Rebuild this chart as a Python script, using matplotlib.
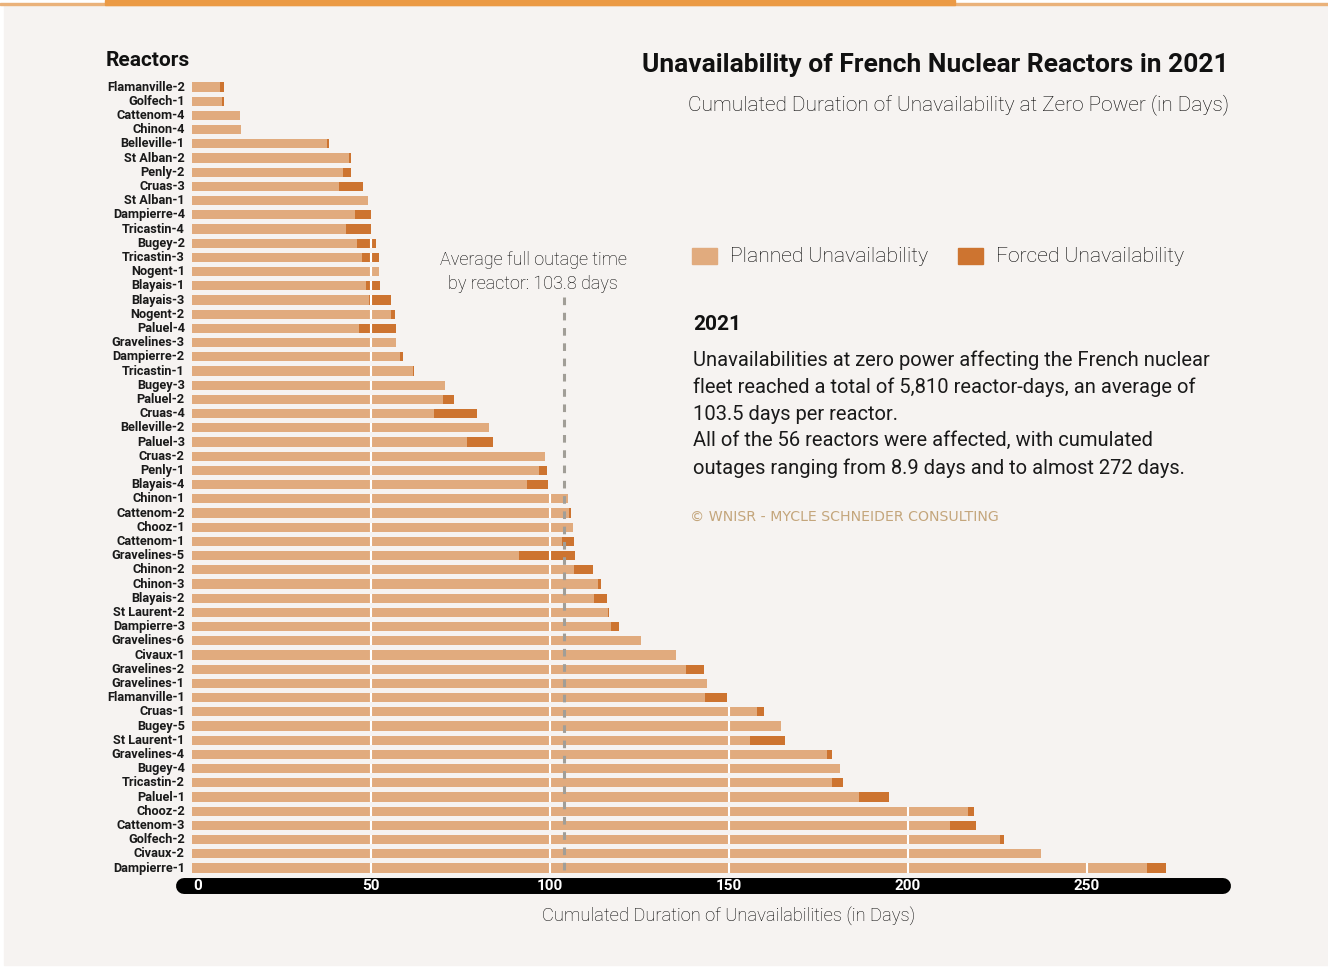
import matplotlib.pyplot as plt
from matplotlib.patches import Rectangle

reactors = [
    "Flamanville-2", "Golfech-1", "Cattenom-4", "Chinon-4", "Belleville-1",
    "St Alban-2", "Penly-2", "Cruas-3", "St Alban-1", "Dampierre-4",
    "Tricastin-4", "Bugey-2", "Tricastin-3", "Nogent-1", "Blayais-1",
    "Blayais-3", "Nogent-2", "Paluel-4", "Gravelines-3", "Dampierre-2",
    "Tricastin-1", "Bugey-3", "Paluel-2", "Cruas-4", "Belleville-2",
    "Paluel-3", "Cruas-2", "Penly-1", "Blayais-4", "Chinon-1",
    "Cattenom-2", "Chooz-1", "Cattenom-1", "Gravelines-5", "Chinon-2",
    "Chinon-3", "Blayais-2", "St Laurent-2", "Dampierre-3", "Gravelines-6",
    "Civaux-1", "Gravelines-2", "Gravelines-1", "Flamanville-1", "Cruas-1",
    "Bugey-5", "St Laurent-1", "Gravelines-4", "Bugey-4", "Tricastin-2",
    "Paluel-1", "Chooz-2", "Cattenom-3", "Golfech-2", "Civaux-2",
    "Dampierre-1",
]

planned = [
    7.8, 8.5, 13.4, 13.7, 37.7,
    43.9, 42.2, 41.1, 49.2, 45.5,
    43.0, 46.1, 47.5, 52.2, 48.6,
    49.4, 55.6, 46.6, 57.0, 58.1,
    61.7, 70.7, 70.1, 67.6, 83.0,
    76.8, 98.6, 97.0, 93.7, 105.0,
    105.3, 106.4, 103.4, 91.3, 106.7,
    113.4, 112.3, 116.2, 117.0, 125.4,
    135.2, 138.0, 143.9, 143.3, 157.8,
    164.5, 155.9, 177.4, 181.0, 178.8,
    186.3, 216.8, 211.7, 225.7, 237.2,
    266.8,
]

forced = [
    1.1, 0.4, 0.0, 0.0, 0.6,
    0.5, 2.2, 6.7, 0.0, 4.5,
    7.0, 5.3, 4.7, 0.0, 3.9,
    6.2, 1.1, 10.4, 0.0, 0.8,
    0.3, 0.0, 3.1, 12.0, 0.0,
    7.3, 0.0, 2.1, 5.7, 0.0,
    0.6, 0.0, 3.3, 15.7, 5.3,
    0.8, 3.6, 0.3, 2.3, 0.0,
    0.0, 5.0, 0.0, 6.2, 2.0,
    0.0, 9.7, 1.4, 0.0, 2.9,
    8.4, 1.7, 7.3, 1.1, 0.0,
    5.2,
]

grid_ticks = [50, 100, 150, 200, 250]
tick_values = [0, 50, 100, 150, 200, 250]
average = 103.8

bg = "#f6f3f1"
c_planned = "#e1ab7e"
c_forced = "#cd7430"
W, H = 1328, 968
bar_h = 0.64


def fx(x):
    return x / W


def fy(y):
    return 1 - y / H


plt.rcParams['font.family'] = ['Roboto', 'DejaVu Sans']

fig = plt.figure(figsize=(W / 100, H / 100), dpi=100, facecolor="white")
fig.patches.append(Rectangle((fx(4), fy(965)), fx(1324), fy(4) - fy(965),
                             transform=fig.transFigure, color=bg, zorder=-2))
# orange rule at the top
fig.patches.append(Rectangle((0, fy(4.5)), 1, 1.5 / H, transform=fig.transFigure,
                             color="#eab27a", zorder=-1))
fig.patches.append(Rectangle((fx(105), fy(4.5)), fx(850), 4.5 / H,
                             transform=fig.transFigure, color="#eb9a45", zorder=-1))

# main axes: x from 176px to 1231px, 3.58 px per day, bars 14.2 px apart
ax = fig.add_axes([fx(176), fy(896), fx(1231 - 176), fy(78.5) - fy(896)])
ax.set_zorder(3)
ax.set_facecolor("none")
ax.set_xlim(-4.47, 290.2)
ax.set_ylim(56.97, -0.6)
ax.axis("off")

ypos = list(range(len(reactors)))
ax.barh(ypos, planned, height=bar_h, color=c_planned, zorder=2)
ax.barh(ypos, forced, left=planned, height=bar_h, color=c_forced, zorder=2)

# white grid lines, only visible across the bars
for y, p, f in zip(ypos, planned, forced):
    for t in grid_ticks:
        if p + f > t:
            ax.vlines(t, y - bar_h / 2, y + bar_h / 2, color="white", lw=1.5,
                      zorder=3)

for y, name in zip(ypos, reactors):
    ax.text(-2.0, y, name, ha="right", va="center", fontsize=9.2,
            fontweight="bold", color="#1a1a1a")

# average line
ax.plot([average, average], [14.8, 55.7], color="#a19e97", lw=2.2,
        dashes=(2.5, 2.5), zorder=4)

# black rounded axis bar with tick labels
ax.plot([-2.2, 288.0], [56.27, 56.27], color="black", lw=11.5,
        solid_capstyle="round", zorder=4)
for v in tick_values:
    ax.text(v + (1.6 if v == 0 else 0), 56.3, str(v), ha="center", va="center",
            fontsize=11, fontweight="bold", color="white", zorder=5)

fig.text(fx(729), fy(916), "Cumulated Duration of Unavailabilities (in Days)",
         ha="center", va="center", fontsize=13.2, fontweight="light",
         color="#000000")

fig.text(fx(533), fy(272), "Average full outage time\nby reactor: 103.8 days",
         ha="center", va="center", fontsize=13, fontweight="light",
         color="#000000", linespacing=1.38)

fig.text(fx(106), fy(61), "Reactors", ha="left", va="center", fontsize=15,
         fontweight="bold", color="#111111")

fig.text(fx(1229), fy(65), "Unavailability of French Nuclear Reactors in 2021",
         ha="right", va="center", fontsize=19, fontweight="bold", color="#111111")
fig.text(fx(1229), fy(105),
         "Cumulated Duration of Unavailability at Zero Power (in Days)",
         ha="right", va="center", fontsize=15, fontweight="light", color="#000000")

# legend
for x0, col, label in [(692, c_planned, "Planned Unavailability"),
                       (958, c_forced, "Forced Unavailability")]:
    fig.patches.append(Rectangle((fx(x0), fy(264)), fx(25), 16 / H,
                                 transform=fig.transFigure, color=col))
    fig.text(fx(x0 + 38), fy(256), label, ha="left", va="center", fontsize=15.2,
             fontweight="light", color="#000000")

fig.text(fx(693), fy(324), "2021", ha="left", va="center", fontsize=15,
         fontweight="bold", color="#111111")
paragraph = ("Unavailabilities at zero power affecting the French nuclear\n"
             "fleet reached a total of 5,810 reactor-days, an average of\n"
             "103.5 days per reactor.\n"
             "All of the 56 reactors were affected, with cumulated\n"
             "outages ranging from 8.9 days and to almost 272 days.")
fig.text(fx(693), fy(414), paragraph, ha="left", va="center", fontsize=14.5,
         color="#1a1a1a", linespacing=1.5)

fig.text(fx(690), fy(517), "© WNISR - MYCLE SCHNEIDER CONSULTING", ha="left",
         va="center", fontsize=10.2, color="#c4a67c", family="DejaVu Sans")

fig.savefig("out.png", dpi=100, facecolor=fig.get_facecolor())
